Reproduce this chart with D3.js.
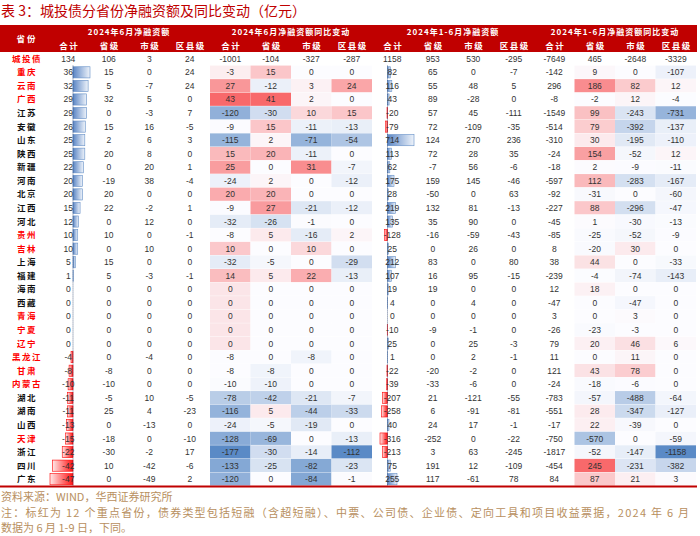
<!DOCTYPE html>
<html>
<head>
<meta charset="utf-8">
<script src="https://cdn.jsdelivr.net/npm/d3@7"></script>
<style>
body { margin: 0; background: #fff; }
</style>
</head>
<body>
<div id="chart"></div>
<script>
var provinces = ['城投债','重庆','云南','广西','江苏','安徽','山东','陕西','新疆','河南','北京','江西','河北','贵州','吉林','上海','福建',
	'海南','西藏','青海','宁夏','辽宁','黑龙江','甘肃','内蒙古','湖北','湖南','山西','天津','浙江','四川','广东'];
var keyProvinces = ['城投债','重庆','云南','广西','贵州','吉林','青海','宁夏','辽宁','黑龙江','甘肃','内蒙古','天津'];
var groupTitles = ['2024年6月净融资额','2024年6月净融资额同比变动','2024年1-6月净融资额','2024年1-6月净融资额同比变动'];
var subTitles = ['合计','省级','市级','区县级'];

// each row: 合计, 省级, 市级, 区县级
var juneNet = [[134,106,3,24],[36,15,0,24],[32,5,-7,24],[29,32,5,0],[29,0,-3,7],[26,15,16,-5],[25,2,6,3],[25,20,8,0],
	[22,0,20,1],[20,-19,38,-4],[20,20,0,0],[15,22,-2,1],[12,0,12,0],[10,10,0,-1],[10,0,10,0],[5,15,0,0],[1,5,-3,-1],
	[0,0,0,0],[0,0,0,0],[0,0,0,0],[0,0,0,0],[0,0,0,0],[-4,0,-4,0],[-8,-8,0,0],[-10,-10,0,0],[-11,-5,10,-5],[-11,25,4,-23],
	[-13,0,-13,0],[-15,-18,0,-10],[-22,-30,-2,17],[-42,10,-42,-6],[-47,0,-49,2]];
var juneYoY = [[-1001,-104,-327,-287],[-3,15,0,0],[27,-12,3,24],[43,41,2,0],[-120,-30,10,15],[-9,15,-11,-13],[-115,2,-71,-54],[15,20,-11,0],
	[25,0,31,-7],[-24,2,0,-12],[20,20,0,0],[-9,27,-21,-12],[-32,-26,-1,0],[-8,5,-16,2],[10,0,10,0],[-32,-5,0,-29],[14,5,22,-13],
	[0,0,0,0],[0,0,0,0],[0,0,0,0],[0,0,0,0],[0,0,0,0],[-8,0,-8,0],[-8,-8,0,0],[-10,-10,0,0],[-78,-42,-21,-7],[-116,5,-44,-33],
	[-24,-5,-19,0],[-128,-69,0,-13],[-177,-30,-14,-112],[-133,-25,-82,-23],[-120,0,-84,-1]];
var ytdNet = [[1158,953,530,-295],[82,65,0,-7],[116,55,48,5],[43,89,-28,0],[-20,57,45,-111],[-79,72,-109,-35],[714,124,270,236],[113,72,28,35],
	[62,-7,56,-6],[175,159,145,-46],[28,-50,0,63],[219,132,81,-13],[135,35,90,0],[-128,-16,-59,-43],[25,0,26,0],[212,83,0,80],[107,16,95,-15],
	[19,19,0,0],[4,0,4,0],[0,0,0,0],[-10,-9,-1,0],[25,0,25,-3],[1,0,2,-1],[-22,-20,-2,0],[-39,-33,-6,0],[-207,21,-121,-55],[-258,6,-91,-81],
	[40,24,17,-1],[-316,-252,0,-22],[-213,3,63,-245],[75,191,12,-109],[255,117,-61,78]];
var ytdYoY = [[-7649,465,-2648,-3329],[-142,9,0,-107],[296,186,82,12],[-8,-2,12,-4],[-1549,99,-243,-731],[-514,79,-392,-137],[-310,30,-195,-110],[-24,154,-52,12],
	[-18,2,-9,-11],[-597,112,-283,-167],[-92,-31,0,-60],[-227,88,-296,-47],[-45,1,-30,-13],[-85,-25,-52,-9],[8,-20,30,0],[38,44,0,-33],[-239,-4,-74,-143],
	[12,18,0,0],[-47,0,-47,0],[3,0,3,0],[-26,-23,-3,0],[79,20,46,6],[11,0,11,0],[121,43,78,0],[-24,-18,-6,0],[-783,-57,-488,-64],[-551,28,-347,-127],
	[-17,22,-39,0],[-750,-570,0,-59],[-1817,-52,-147,-1158],[-454,245,-231,-382],[84,87,21,3]];

var rows = provinces.map(function(p, i) {
	return juneNet[i].concat(juneYoY[i], ytdNet[i], ytdYoY[i]);
});

var width = 700, height = 536,
	red = '#c00000',
	numFont = '"Liberation Sans", Arial, sans-serif',
	cjkFont = '"Noto Sans CJK SC", sans-serif';

var svg = d3.select('#chart').append('svg')
	.attr('width', width).attr('height', height)
	.style('display', 'block');

var x = d3.scaleBand().domain(d3.range(16)).range([48, 696]);
var y = d3.scaleBand().domain(provinces).range([52, 486]);
var bw = x.bandwidth(), bh = y.bandwidth();

// gradients for data bars
var defs = svg.append('defs');
var gPos = defs.append('linearGradient').attr('id', 'gPos').attr('x1', 0).attr('x2', 1).attr('y1', 0).attr('y2', 0);
gPos.append('stop').attr('offset', 0).attr('stop-color', '#5b86c5');
gPos.append('stop').attr('offset', 1).attr('stop-color', '#eef3fa');
var gNeg = defs.append('linearGradient').attr('id', 'gNeg').attr('x1', 1).attr('x2', 0).attr('y1', 0).attr('y2', 0);
gNeg.append('stop').attr('offset', 0).attr('stop-color', '#ff1010');
gNeg.append('stop').attr('offset', 1).attr('stop-color', '#ffe8e8');

// title
svg.append('text')
	.attr('x', 1).attr('y', 16)
	.attr('font-family', cjkFont).attr('font-size', 14)
	.attr('fill', red)
	.text('表 3：城投债分省份净融资额及同比变动（亿元）');

// header
svg.append('rect').attr('x', 0).attr('y', 25).attr('width', 697).attr('height', 27).attr('fill', red);

svg.append('text')
	.attr('x', 27).attr('y', 41.5)
	.attr('text-anchor', 'middle')
	.attr('font-family', cjkFont).attr('font-size', 8.5).attr('font-weight', 'bold')
	.attr('letter-spacing', 2)
	.attr('fill', '#fff')
	.text('省份');

svg.selectAll('.gtitle')
	.data(groupTitles)
	.enter().append('text')
	.attr('class', 'gtitle')
	.attr('x', function(d, i) { return x(i * 4) + bw * 2; })
	.attr('y', 34.5)
	.attr('text-anchor', 'middle')
	.attr('font-family', cjkFont).attr('font-size', 8).attr('font-weight', 'bold')
	.attr('letter-spacing', 1)
	.attr('fill', '#fff')
	.text(function(d) { return d; });

svg.selectAll('.stitle')
	.data(d3.range(16))
	.enter().append('text')
	.attr('class', 'stitle')
	.attr('x', function(d) { return x(d) + bw / 2 + 1; })
	.attr('y', 48.5)
	.attr('text-anchor', 'middle')
	.attr('font-family', cjkFont).attr('font-size', 8.5).attr('font-weight', 'bold')
	.attr('letter-spacing', 1.5)
	.attr('fill', '#fff')
	.text(function(d) { return subTitles[d % 4]; });

// heat map colour groups (城投债 row excluded)
var heatGroups = [[4], [5, 6, 7], [13, 14, 15]];
var heatColor = {};
heatGroups.forEach(function(cols) {
	var vals = [];
	cols.forEach(function(c) {
		rows.slice(1).forEach(function(r) { vals.push(r[c]); });
	});
	var sc = d3.scaleLinear()
		.domain([d3.min(vals), d3.median(vals), d3.max(vals)])
		.range(['#5a8ac6', '#fcfcff', '#f8696b'])
		.interpolate(d3.interpolateRgb);
	cols.forEach(function(c) { heatColor[c] = sc; });
});

var body = svg.append('g');

heatGroups.forEach(function(cols) {
	cols.forEach(function(c) {
		body.selectAll('.heat' + c)
			.data(rows.slice(1))
			.enter().append('rect')
			.attr('x', x(c))
			.attr('y', function(d, i) { return y(provinces[i + 1]); })
			.attr('width', bw)
			.attr('height', bh - 0.4)
			.attr('fill', function(d) { return heatColor[c](d[c]); });
	});
});

// data bars
var barCols = [
	{ col: 0, left: 2, axis: 25, right: 42 },
	{ col: 8, left: 8, axis: 15.5, right: 42 }
];
barCols.forEach(function(b) {
	var vals = rows.slice(1).map(function(r) { return r[b.col]; });
	var x0 = x(b.col);
	var s = d3.scaleLinear()
		.domain([d3.min(vals), 0, d3.max(vals)])
		.range([x0 + b.left, x0 + b.axis, x0 + b.right]);
	body.selectAll('.bar' + b.col)
		.data(vals)
		.enter().append('rect')
		.attr('x', function(d) { return Math.min(s(d), s(0)); })
		.attr('y', function(d, i) { return y(provinces[i + 1]) + 1.2; })
		.attr('width', function(d) { return Math.abs(s(d) - s(0)); })
		.attr('height', bh - 2.4)
		.attr('fill', function(d) { return d >= 0 ? 'url(#gPos)' : 'url(#gNeg)'; })
		.attr('stroke', function(d) { return d >= 0 ? '#638ec6' : '#ff0000'; })
		.attr('stroke-width', function(d) { return d === 0 ? 0 : 0.6; });
	body.append('line')
		.attr('x1', s(0)).attr('x2', s(0))
		.attr('y1', y(provinces[1])).attr('y2', 486)
		.attr('stroke', '#1f3864')
		.attr('stroke-width', 0.7)
		.attr('stroke-dasharray', '1,1');
});

// province labels
body.selectAll('.plabel')
	.data(provinces)
	.enter().append('text')
	.attr('x', 27)
	.attr('y', function(d) { return y(d) + bh / 2 + 3; })
	.attr('text-anchor', 'middle')
	.attr('font-family', cjkFont).attr('font-size', 8.5).attr('font-weight', 'bold')
	.attr('letter-spacing', 1.5)
	.attr('fill', function(d) { return keyProvinces.indexOf(d) >= 0 ? '#ff0000' : '#111'; })
	.text(function(d) { return d; });

// numbers
rows.forEach(function(r, i) {
	body.selectAll('.num' + i)
		.data(r)
		.enter().append('text')
		.attr('x', function(d, j) { return x(j) + bw / 2; })
		.attr('y', y(provinces[i]) + bh / 2 + 3)
		.attr('text-anchor', 'middle')
		.attr('font-family', numFont).attr('font-size', 8.5)
		.attr('fill', '#333')
		.text(function(d) { return d; });
});

// bottom rule
svg.append('line')
	.attr('x1', 0).attr('x2', 697)
	.attr('y1', 486.5).attr('y2', 486.5)
	.attr('stroke', red).attr('stroke-width', 2);

// notes
var noteColor = '#b88f5e';
svg.append('text')
	.attr('x', 1).attr('y', 501)
	.attr('font-family', cjkFont).attr('font-size', 11)
	.attr('fill', noteColor)
	.text('资料来源：WIND，华西证券研究所');
svg.append('text')
	.attr('x', 1).attr('y', 517)
	.attr('font-family', cjkFont).attr('font-size', 11)
	.attr('fill', noteColor)
	.attr('textLength', 688).attr('lengthAdjust', 'spacing')
	.text('注：标红为 12 个重点省份，债券类型包括短融（含超短融）、中票、公司债、企业债、定向工具和项目收益票据，2024 年 6 月');
svg.append('text')
	.attr('x', 1).attr('y', 532)
	.attr('font-family', cjkFont).attr('font-size', 11)
	.attr('fill', noteColor)
	.text('数据为 6 月 1-9 日，下同。');
</script>
</body>
</html>
